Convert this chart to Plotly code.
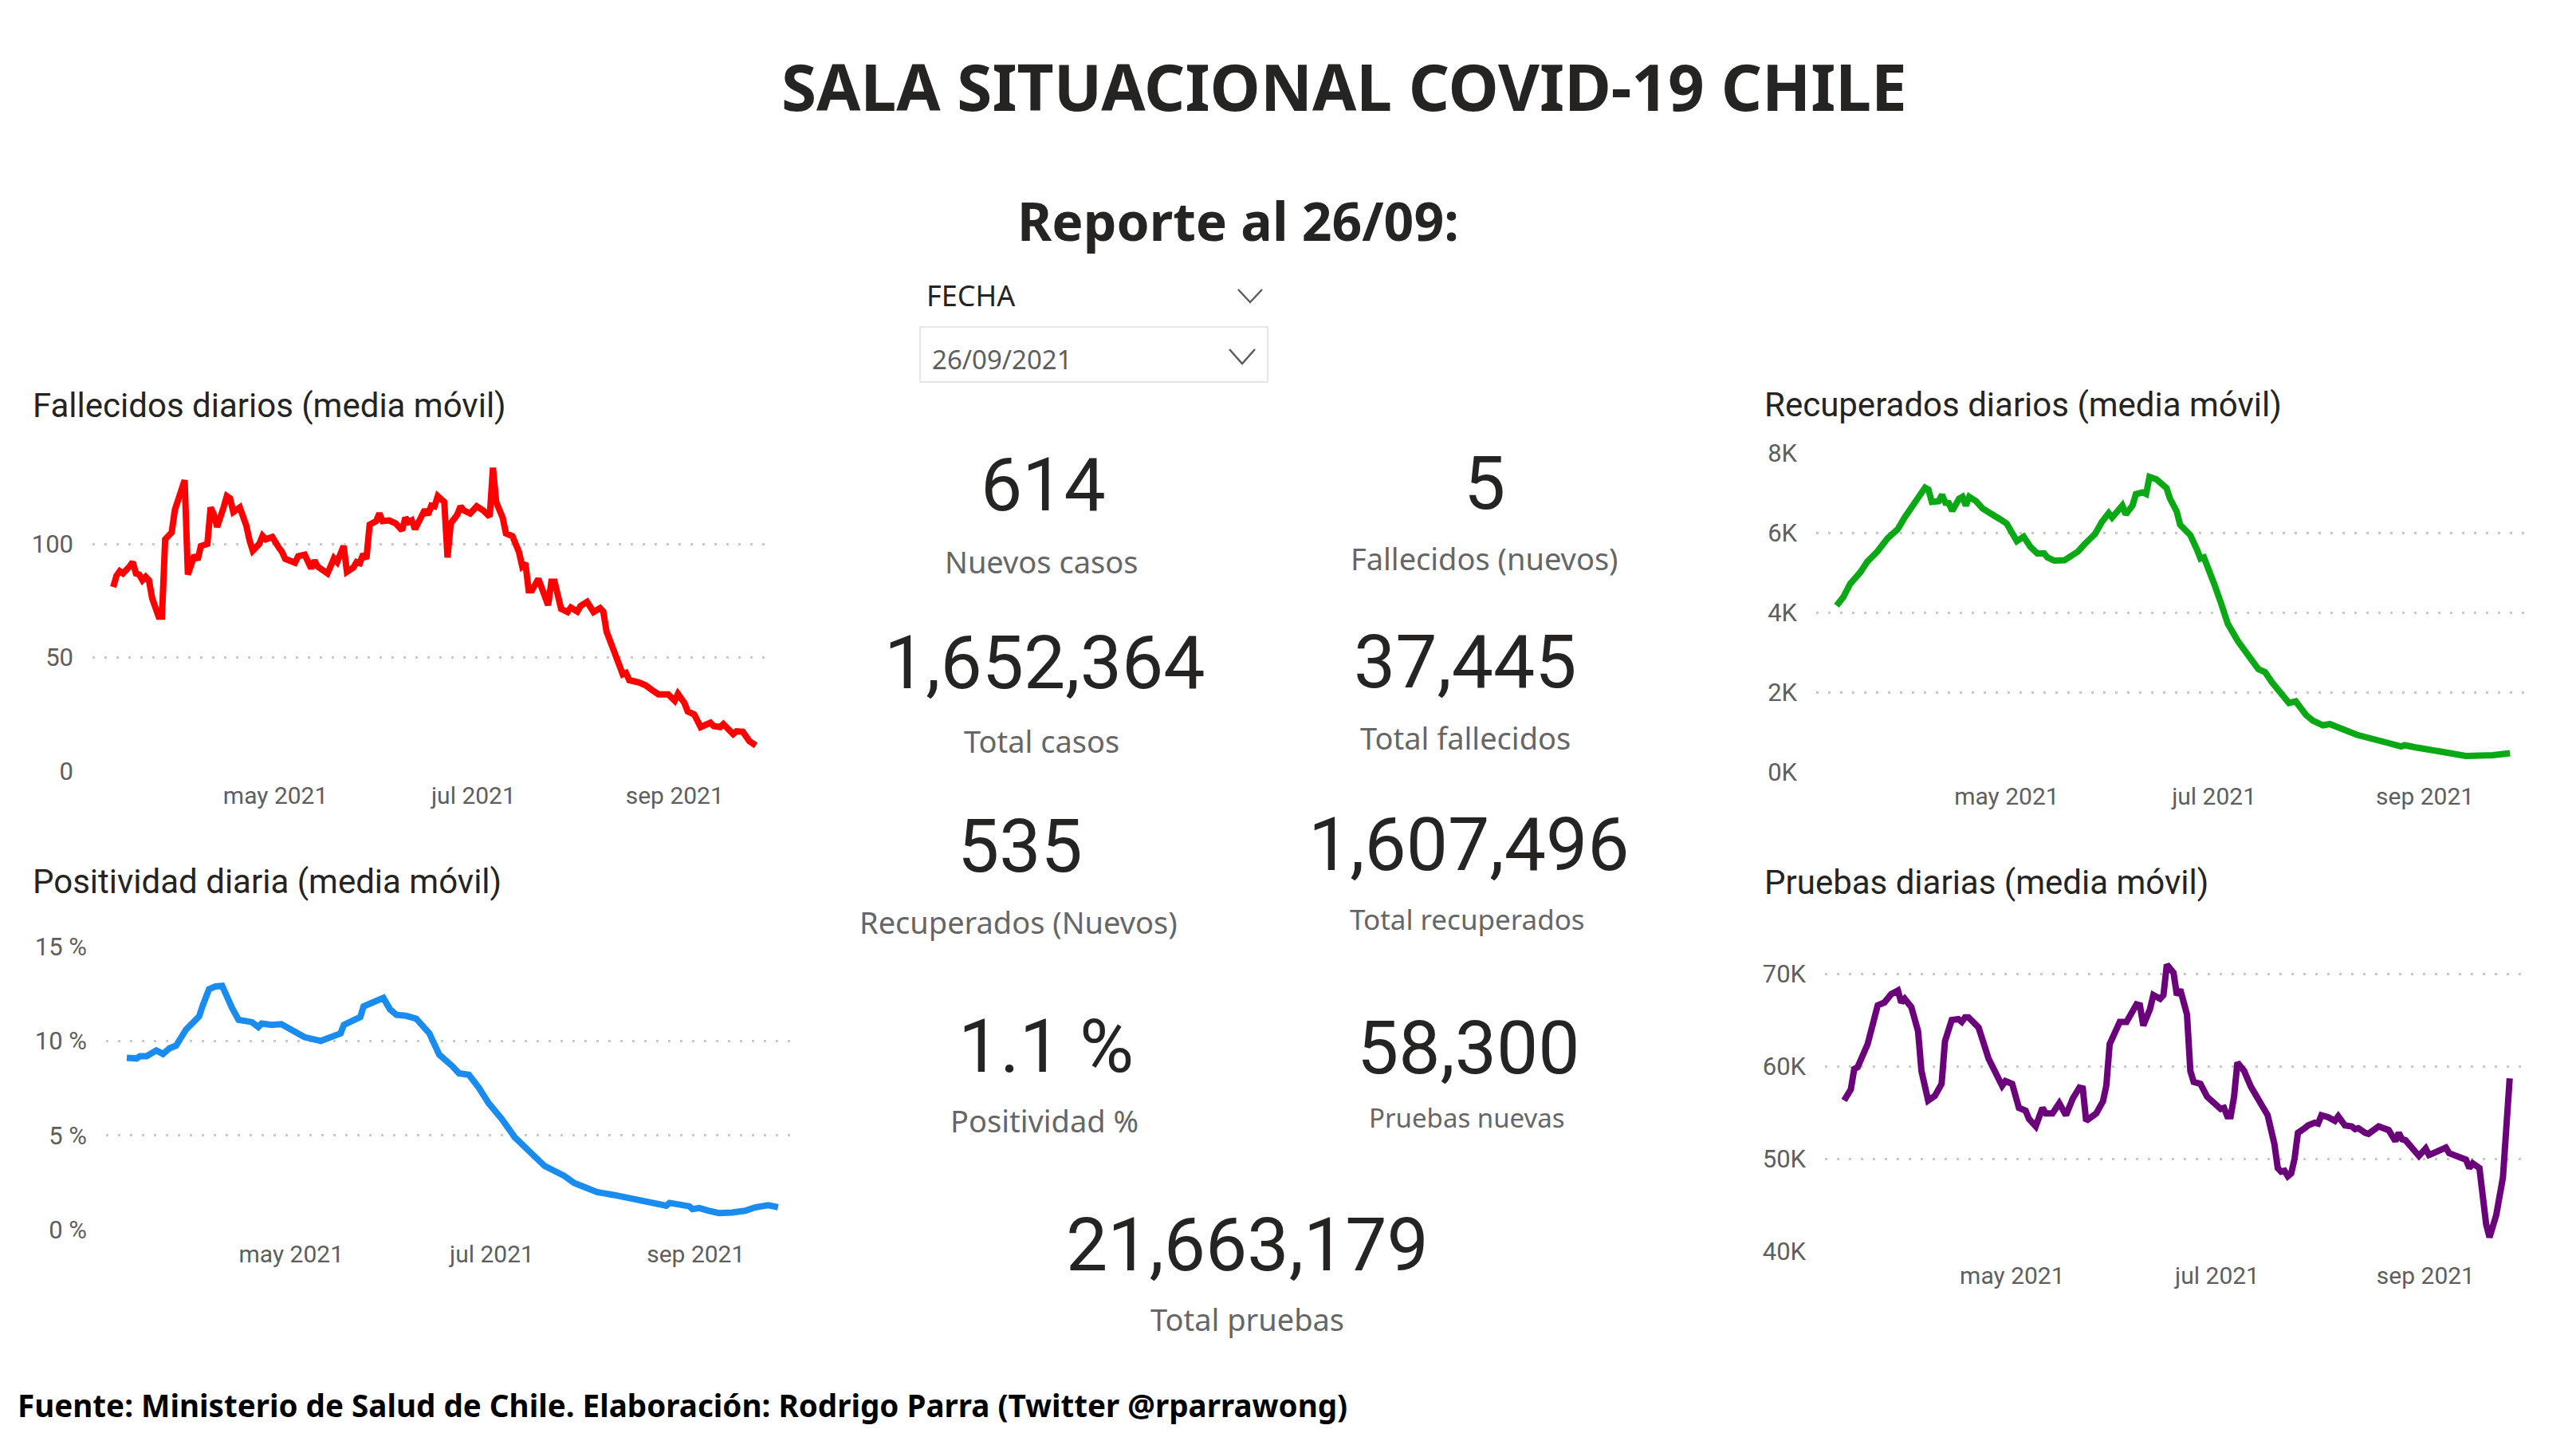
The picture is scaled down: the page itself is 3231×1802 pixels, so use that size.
"""
Sala situacional COVID-19 Chile: Power BI style report page rebuilt in Plotly.
"""
import pandas as pd
import plotly.graph_objects as go

W, H = 3231, 1802
BODY = 8  # default page margin around the plot div
INICIO = pd.Timestamp("2021-03-12")

TICK_FECHAS = ["2021-05-01", "2021-07-01", "2021-09-01"]
TICK_TEXTOS = ["may 2021", "jul 2021", "sep 2021"]

fall_dias = [0, 1, 2, 3, 5, 6, 7, 8, 9, 10,
             11, 12, 14, 15, 16, 18, 19, 21, 22, 23,
             24, 25, 26, 27, 29, 30, 31, 32, 34, 35,
             36, 37, 39, 41, 42, 43, 45, 46, 47, 49,
             51, 52, 53, 55, 56, 57, 59, 61, 62, 63,
             65, 66, 67, 68, 69, 71, 72, 74, 75, 76,
             77, 78, 79, 81, 82, 83, 85, 86, 87, 89,
             90, 91, 92, 93, 94, 96, 97, 98, 99, 100,
             102, 103, 104, 106, 107, 108, 110, 112, 114, 116,
             117, 118, 120, 121, 123, 125, 126, 127, 128, 129,
             131, 132, 134, 135, 136, 138, 140, 141, 143, 144,
             146, 148, 150, 151, 152, 154, 155, 156, 157, 158,
             159, 162, 164, 166, 168, 171, 173, 174, 176, 177,
             179, 181, 184, 185, 187, 188, 191, 192, 194, 196,
             198]
fall_vals = [81, 86, 88, 87, 90, 92, 87, 86.5, 84, 85.5,
             84, 76, 68, 68, 102, 105, 115, 125, 128, 86.5,
             91.5, 95, 93, 99, 100, 116, 113, 107.5, 116, 121,
             120, 114, 116, 108, 101.5, 97, 100, 103.5, 102, 103,
             98.4, 96.5, 93.4, 92.7, 91.7, 94.6, 95.2, 89.2, 92.7, 90,
             88.3, 87, 90.2, 93.6, 92, 99, 87.7, 89.6, 92, 91.5,
             95.5, 93.4, 108.4, 110, 113.4, 110, 110.3, 109.3, 109, 106,
             111.5, 109.6, 110.3, 106.5, 109, 115, 112.8, 116.8, 116.5, 121,
             118.4, 94, 109, 112.8, 116.5, 114.7, 113.4, 116.5, 114.7, 112,
             133.5, 118.4, 111.5, 104.6, 103.4, 96.5, 90.2, 91.5, 79.6, 79.6,
             84.6, 80.2, 73, 83.3, 83.3, 71.4, 70, 72, 70.2, 72.7,
             74.5, 70, 71.7, 70.2, 61.4, 53.9, 50, 44.5, 42.6, 43.2,
             40, 39, 37.8, 35.7, 33.8, 33.8, 31, 34, 30, 26.3,
             25, 19.4, 21.3, 19.8, 19.4, 20.7, 16.3, 17.5, 17.3, 13.2,
             11.3]

posi_dias = [0, 3, 4, 6, 9, 11, 13, 15, 18, 22,
             23, 25, 27, 29, 32, 34, 38, 40, 41, 44,
             47, 51, 54, 59, 62, 65, 66, 69, 71, 72,
             75, 78, 80, 82, 85, 88, 92, 93, 95, 99,
             101, 104, 107, 110, 114, 118, 122, 125, 127, 133,
             136, 140, 143, 148, 151, 155, 159, 164, 165, 168,
             171, 172, 174, 177, 180, 184, 188, 191, 195, 198]
posi_vals = [9.11, 9.07, 9.19, 9.19, 9.49, 9.31, 9.61, 9.75, 10.6, 11.3,
             11.83, 12.74, 12.89, 12.92, 11.75, 11.12, 11.0, 10.74, 10.92, 10.85,
             10.89, 10.5, 10.2, 10.0, 10.2, 10.4, 10.85, 11.12, 11.27, 11.83,
             12.06, 12.28, 11.68, 11.38, 11.33, 11.18, 10.4, 10.02, 9.27, 8.66,
             8.28, 8.21, 7.53, 6.7, 5.87, 4.89, 4.21, 3.68, 3.38, 2.85,
             2.47, 2.2, 1.99, 1.84, 1.72, 1.63, 1.42, 1.27, 1.42, 1.31,
             1.24, 1.09, 1.15, 1.0, 0.88, 0.91, 1.0, 1.18, 1.3, 1.19]

recu_dias = [0, 2, 4, 7, 9, 12, 15, 18, 20, 26,
             27, 28, 30, 31, 32, 33, 34, 36, 37, 38,
             39, 41, 43, 45, 48, 50, 51, 53, 55, 57,
             59, 61, 62, 64, 67, 68, 71, 73, 76, 78,
             80, 81, 84, 85, 87, 88, 90, 91, 92, 94,
             97, 98, 100, 101, 104, 106, 107, 108, 110, 111,
             113, 115, 118, 121, 124, 126, 128, 133, 135, 138,
             140, 143, 145, 153, 158, 162, 166, 167, 170, 173,
             179, 185, 188, 193, 198]
recu_vals = [4170, 4390, 4720, 5010, 5270, 5530, 5860, 6090, 6380, 7130,
             7080, 6770, 6790, 6950, 6750, 6740, 6550, 6850, 6900, 6680,
             6900, 6790, 6600, 6510, 6340, 6230, 6090, 5790, 5900, 5640,
             5480, 5480, 5380, 5300, 5310, 5360, 5530, 5720, 5970, 6270,
             6490, 6380, 6680, 6460, 6680, 6970, 7010, 6970, 7400, 7340,
             7120, 6860, 6530, 6200, 5940, 5570, 5350, 5380, 4980, 4720,
             4240, 3720, 3280, 2910, 2580, 2500, 2250, 1730, 1770, 1430,
             1290, 1170, 1200, 930, 800, 730, 640, 670, 620, 590,
             490, 400, 400, 420, 470]

prue_dias = [0, 2, 3, 4, 7, 10, 12, 14, 16, 17,
             18, 20, 22, 23, 25, 27, 29, 30, 32, 34,
             35, 36, 37, 39, 40, 43, 44, 46, 47, 48,
             50, 52, 54, 55, 57, 59, 60, 62, 64, 66,
             68, 70, 71, 72, 74, 75, 77, 78, 79, 81,
             82, 84, 85, 87, 88, 89, 91, 92, 94, 95,
             96, 98, 99, 100, 102, 103, 104, 106, 108, 110,
             112, 113, 114, 115, 116, 117, 119, 121, 124, 126,
             128, 129, 130, 131, 132, 133, 134, 135, 137, 138,
             140, 141, 142, 144, 146, 147, 149, 151, 152, 153,
             155, 156, 159, 162, 164, 165, 166, 167, 171, 173,
             174, 177, 179, 180, 183, 185, 186, 187, 189, 191,
             192, 194, 196, 197, 198]
prue_vals = [56300, 57500, 59700, 59900, 62400, 66600, 66900, 67800, 68200, 66900,
             67300, 66400, 63800, 59500, 56300, 56800, 58100, 62700, 65000, 65100,
             64800, 65300, 65300, 64500, 64200, 60800, 60000, 58400, 57900, 58400,
             58100, 55500, 55200, 54300, 53500, 55500, 54900, 54900, 56000, 54700,
             56500, 57700, 57600, 54100, 54700, 54900, 56200, 57900, 62400, 64000,
             64800, 64800, 65400, 66700, 66600, 64400, 66200, 67700, 67300, 67700,
             71000, 70100, 67700, 68300, 65600, 59500, 58300, 58100, 56700, 56000,
             55400, 55500, 54600, 54600, 56700, 60400, 59500, 57800, 56100, 54700,
             51600, 49000, 48600, 48700, 48100, 48400, 50000, 52800, 53300, 53600,
             53900, 53800, 54700, 54500, 54100, 54600, 53600, 53500, 53200, 53300,
             52800, 52700, 53500, 53100, 51900, 52800, 52100, 52000, 50300, 51100,
             50400, 50800, 51200, 50600, 50100, 49900, 49000, 49500, 49000, 42900,
             41500, 43900, 48000, 52500, 58700]

FIG_W, FIG_H = W - 2 * BODY, H - 2 * BODY


def px_x(v):
    return (v - BODY) / FIG_W


def px_y(v):
    return 1 - (v - BODY) / FIG_H


def fecha(dias):
    return INICIO + pd.to_timedelta(dias, unit="D")


fig = go.Figure()

# name, days, values, colour, px box (left, right, top, bottom), day limits, y range, y ticks
paneles = [
    ("Fallecidos diarios", fall_dias, fall_vals, "#ff0000", (116, 970, 568, 967), (-6.4, 203.4), [0, 140],
     [0, 50, 100], ["0", "50", "100"], (39, 508)),
    ("Positividad diaria", posi_dias, posi_vals, "#1a8cf0", (133, 992, 1187, 1542), (-6.3, 201.9), [0, 15],
     [0, 5, 10, 15], ["0 %", "5 %", "10 %", "15 %"], (39, 1105)),
    ("Recuperados diarios", recu_dias, recu_vals, "#0aa814", (2278, 3167, 568, 968), (-6, 202.4), [0, 8000],
     [0, 2000, 4000, 6000, 8000], ["0K", "2K", "4K", "6K", "8K"], (2211, 507)),
    ("Pruebas diarias", prue_dias, prue_vals, "#6b007b", (2289, 3163, 1198, 1569), (-5.7, 201.6), [40000, 72000],
     [40000, 50000, 60000, 70000], ["40K", "50K", "60K", "70K"], (2211, 1106)),
]

for i, (nombre, dias, vals, color, caja, lim, yr, yt, ytt, tit) in enumerate(paneles, start=1):
    izq, der, arr, aba = caja
    fig.add_trace(go.Scatter(x=fecha(dias), y=vals, mode="lines", name=nombre, showlegend=False,
                             line=dict(color=color, width=8), xaxis=f"x{i}", yaxis=f"y{i}"))
    fig.layout[f"xaxis{i}"] = dict(
        domain=[px_x(izq), px_x(der)], anchor=f"y{i}", showgrid=False, zeroline=False, showline=False,
        automargin=False,
        range=[INICIO + pd.Timedelta(days=lim[0]), INICIO + pd.Timedelta(days=lim[1])],
        tickvals=TICK_FECHAS, ticktext=TICK_TEXTOS, ticks="", ticklabelstandoff=10,
        tickfont=dict(family="Roboto", size=30, color="#605e5c"))
    fig.layout[f"yaxis{i}"] = dict(
        domain=[px_y(aba), px_y(arr)], anchor=f"x{i}", range=yr, tickvals=yt, ticktext=ytt,
        automargin=False,
        showgrid=True, gridcolor="#c9c9c9", griddash="3px,12px", gridwidth=3,
        zeroline=False, showline=False, ticks="", ticklabelstandoff=23,
        tickfont=dict(family="Roboto", size=31, color="#605e5c"))
    fig.add_annotation(x=px_x(tit[0]), y=px_y(tit[1]), xref="paper", yref="paper", xanchor="left", yanchor="middle",
                       text=f"{nombre} (media móvil)", showarrow=False,
                       font=dict(family="Roboto", size=42, color="#252423"))

# text blocks: text, x, y, size, font
NUM = dict(family="Roboto", color="#252423", weight=400)
LAB = dict(family="Noto Sans", color="#666666")

textos = [
    ("SALA SITUACIONAL COVID-19 CHILE", 1686, 108, 80, dict(family="Noto Sans", color="#252423", weight=700)),
    ("Reporte al 26/09:", 1553, 276, 66, dict(family="Noto Sans", color="#252423", weight=700)),
    ("614", 1308, 608, 93, NUM), ("Nuevos casos", 1306, 704, 38, LAB),
    ("5", 1862, 606, 93, NUM), ("Fallecidos (nuevos)", 1862, 700, 38, LAB),
    ("1,652,364", 1310, 832, 93, NUM), ("Total casos", 1306, 929, 38, LAB),
    ("37,445", 1838, 830, 93, NUM), ("Total fallecidos", 1838, 925, 38, LAB),
    ("535", 1279, 1061, 93, NUM), ("Recuperados (Nuevos)", 1277, 1156, 38, LAB),
    ("1,607,496", 1842, 1059, 93, NUM), ("Total recuperados", 1840, 1152, 35, LAB),
    ("1.1 %", 1312, 1312, 93, NUM), ("Positividad %", 1310, 1405, 38, LAB),
    ("58,300", 1842, 1314, 93, NUM), ("Pruebas nuevas", 1840, 1401, 33, LAB),
    ("21,663,179", 1564, 1561, 93, NUM), ("Total pruebas", 1564, 1654, 38, LAB),
]
for txt, x, y, size, f in textos:
    fig.add_annotation(x=px_x(x), y=px_y(y), xref="paper", yref="paper", xanchor="center", yanchor="middle",
                       text=txt, showarrow=False, font=dict(size=size, **f))

fig.add_annotation(x=px_x(20), y=px_y(1762), xref="paper", yref="paper", xanchor="left", yanchor="middle",
                   text="Fuente: Ministerio de Salud de Chile. Elaboración: Rodrigo Parra (Twitter @rparrawong)",
                   showarrow=False, font=dict(family="Noto Sans", size=38.6, color="#000000", weight=700))

# date slicer
fig.add_annotation(x=px_x(1160), y=px_y(371), xref="paper", yref="paper", xanchor="left", yanchor="middle",
                   text="FECHA", showarrow=False, font=dict(family="Noto Sans", size=36, color="#252423"))
fig.add_annotation(x=px_x(1167), y=px_y(450), xref="paper", yref="paper", xanchor="left", yanchor="middle",
                   text="26/09/2021", showarrow=False, font=dict(family="Noto Sans", size=33, color="#605e5c"))
fig.add_shape(type="rect", xref="paper", yref="paper", x0=px_x(1154), x1=px_x(1590), y0=px_y(410), y1=px_y(479),
              line=dict(color="#e6e6e6", width=2), fillcolor="rgba(0,0,0,0)")
for cx, cy, w, h in [(1568, 371, 15, 8), (1558, 447, 16, 9)]:
    fig.add_shape(type="path", xref="paper", yref="paper", line=dict(color="#605e5c", width=2.5),
                  path=f"M {px_x(cx - w)} {px_y(cy - h)} L {px_x(cx)} {px_y(cy + h)} L {px_x(cx + w)} {px_y(cy - h)}")

fig.update_layout(width=FIG_W, height=FIG_H, margin=dict(l=0, r=0, t=0, b=0),
                  paper_bgcolor="#ffffff", plot_bgcolor="#ffffff", showlegend=False)

fig.write_html("out.html")
